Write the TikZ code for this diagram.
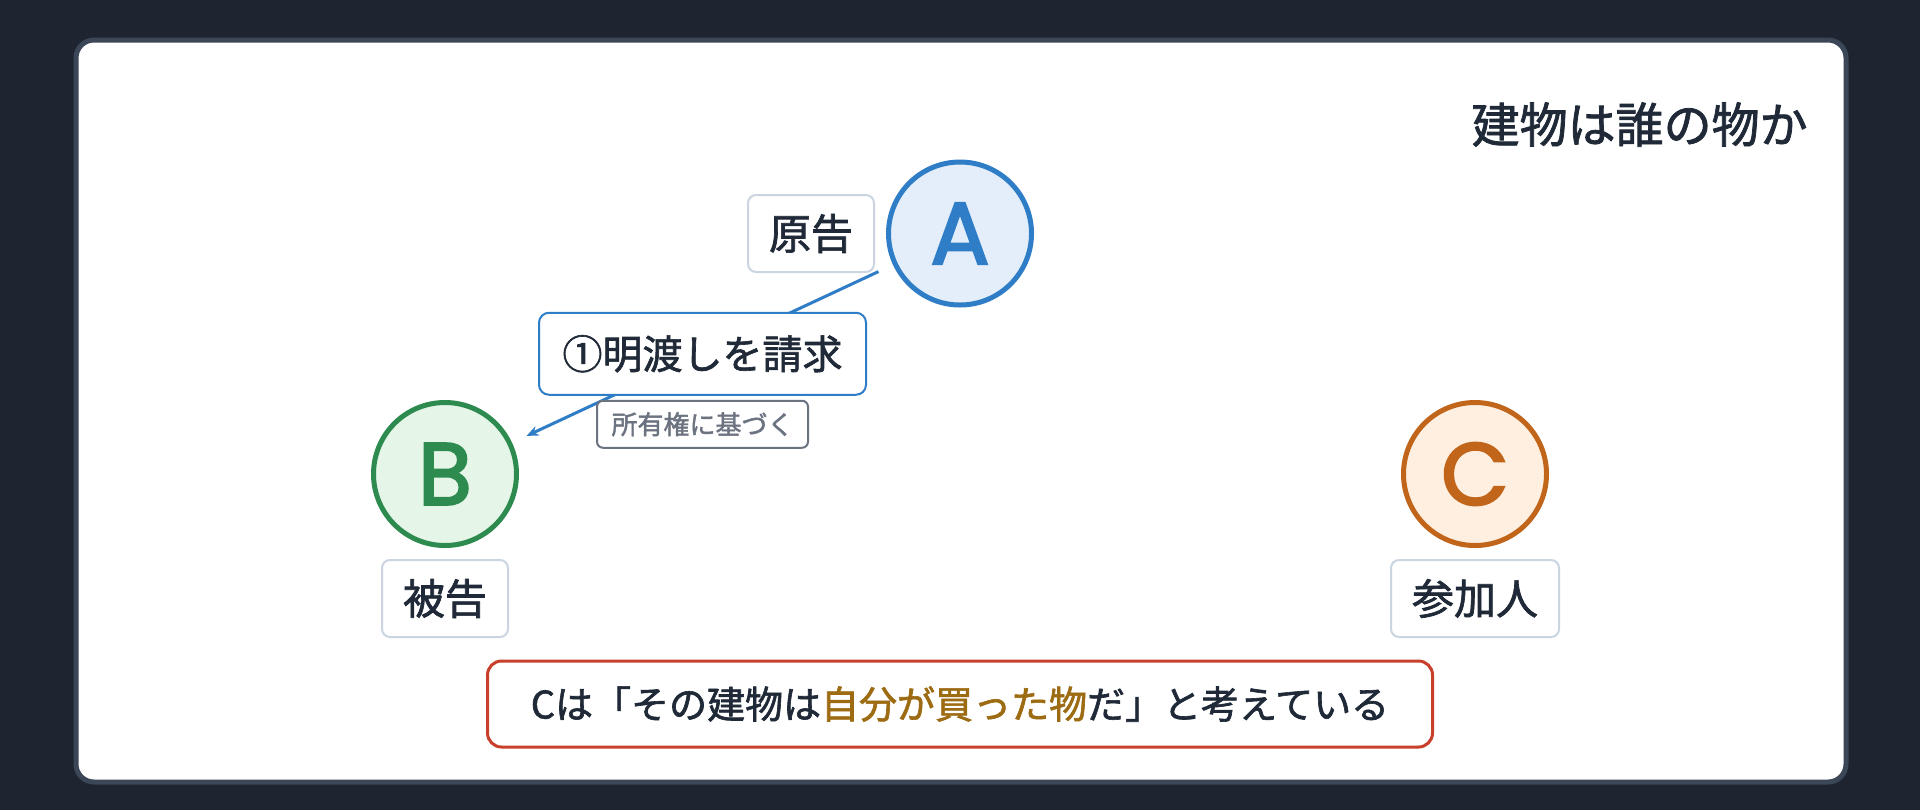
\documentclass[tikz,border=0pt]{standalone}
\usepackage{fontspec}
\setmainfont{Noto Sans CJK JP}[RawFeature={embolden=1.6}]
\newfontfamily\letterfont{Poppins}[RawFeature={embolden=2.5}]
\usepackage{tikz}
\usetikzlibrary{shapes.geometric, arrows.meta}
\definecolor{bgdark}{HTML}{1E2530}
\definecolor{cardline}{HTML}{3B4657}
\definecolor{ink}{HTML}{1F2937}
\definecolor{ablue}{HTML}{2F7DC6}
\definecolor{ablueL}{HTML}{E3EEFA}
\definecolor{bgreen}{HTML}{2E8B4F}
\definecolor{bgreenL}{HTML}{E5F6E9}
\definecolor{corange}{HTML}{C0651A}
\definecolor{corangeL}{HTML}{FEEFE0}
\definecolor{tagline}{HTML}{CBD5E1}
\definecolor{muted}{HTML}{6B7280}
\definecolor{notered}{HTML}{C8402B}
\definecolor{gold}{HTML}{9C6B12}
\tikzstyle{party} = [circle,
minimum size=71.5pt,
line width=2.5pt,
inner sep=0pt,
font=\letterfont\fontsize{44pt}{44pt}\selectfont]
\tikzstyle{role} = [rectangle, rounded corners=4pt,
minimum height=38.5pt,
inner xsep=0pt,
line width=1pt,
fill=white,
text=ink,
font=\fontsize{21pt}{21pt}\selectfont,
draw=tagline]
\tikzstyle{claim} = [rectangle, rounded corners=5pt,
minimum width=163.5pt,
minimum height=41pt,
inner xsep=0pt,
line width=1pt,
fill=white,
text=ink,
font=\fontsize{20pt}{20pt}\selectfont,
draw=ablue]
\tikzstyle{basis} = [rectangle, rounded corners=3pt,
minimum width=105.5pt,
minimum height=23.5pt,
inner xsep=0pt,
line width=1pt,
fill=white,
text=muted,
font=\fontsize{13pt}{13pt}\selectfont,
draw=muted]
\tikzstyle{note} = [rectangle, rounded corners=7pt,
minimum width=472.5pt,
minimum height=43pt,
line width=1.5pt,
fill=white,
text=ink,
font=\fontsize{19pt}{19pt}\selectfont,
draw=notered]
\tikzstyle{arrow} = [line width=1.5pt, ablue, -{Stealth[length=6pt,width=5pt]},
shorten >=8pt, shorten <=8pt]

\begin{document}
\begin{tikzpicture}[x=0.5pt, y=-0.5pt, node distance=62.25pt]
        \useasboundingbox (0,0) rectangle (1920,810);
        \fill [bgdark] (0,0) rectangle (1920,810);
        \draw [cardline, line width=2.5pt, fill=white, rounded corners=9pt] (76,40) rectangle (1846,782);

        \node (title) [anchor=east, inner sep=0pt, text=ink, font=\fontsize{24pt}{24pt}\selectfont] at (1808,124.5) {建物は誰の物か};

        \node (A) [party, draw=ablue, fill=ablueL, text=ablue] at (960,233.5) {A};
        \node (B) [party, draw=bgreen, fill=bgreenL, text=bgreen] at (445,474) {B};
        \node (C) [party, draw=corange, fill=corangeL, text=corange] at (1475,474) {C};

        \node (plaintiff) [role, minimum width=63pt, left of=A, node distance=74.5pt] {原告};
        \node (defendant) [role, minimum width=63pt, below of=B] {被告};
        \node (intervenor) [role, minimum width=84pt, below of=C] {参加人};

        \draw [arrow] (A) -- node[claim] (demand) {①明渡しを請求} (B);
        \node (ownership) [basis, below of=demand, node distance=35.25pt] {所有権に基づく};

        \node (belief) [note] at (960,704) {Cは「その建物は\textcolor{gold}{自分が買った物}だ」と考えている};
    \end{tikzpicture}
\end{document}
